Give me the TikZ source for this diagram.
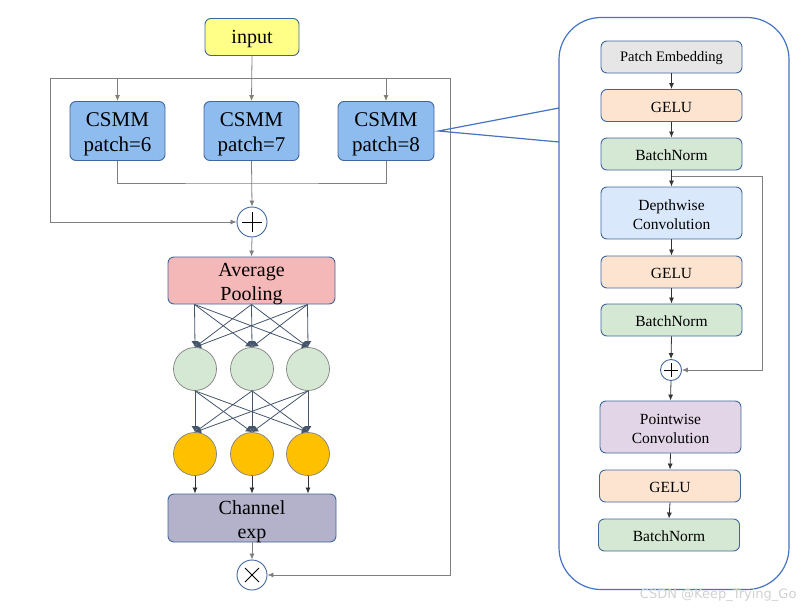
\documentclass[tikz,border=0pt]{standalone}
\usepackage{fontspec}
\setmainfont{Liberation Serif}
\setsansfont{DejaVu Sans}
\usetikzlibrary{arrows.meta,calc}
\definecolor{boxb}{HTML}{41669C}
\definecolor{panelb}{HTML}{4472C4}
\definecolor{lineg}{HTML}{7F7F7F}
\definecolor{nnc}{HTML}{44546A}
\definecolor{inyel}{HTML}{FFFF88}
\definecolor{csmm}{HTML}{8FBCEE}
\definecolor{poolc}{HTML}{F4B8B8}
\definecolor{greenc}{HTML}{D5E8D4}
\definecolor{goldc}{HTML}{FFC000}
\definecolor{chanc}{HTML}{B4B2CA}
\definecolor{grayc}{HTML}{E7E6E6}
\definecolor{peach}{HTML}{FCE4D0}
\definecolor{bnc}{HTML}{D5E8D4}
\definecolor{dwc}{HTML}{DAE8FC}
\definecolor{pwc}{HTML}{E1D5E7}
\tikzset{
  box/.style={draw=boxb, line width=0.9pt, rounded corners=6pt, align=center, inner sep=0pt},
  lbox/.style={box},
  ltext/.style={font=\fontsize{21}{25}\selectfont, align=center, yshift=-3.5pt, inner sep=0pt},
  ltextb/.style={font=\fontsize{20}{24}\selectfont, align=center, yshift=-3.5pt, inner sep=0pt},
  rbox/.style={box, minimum width=141pt, minimum height=32pt, font=\fontsize{15.5}{19}\selectfont, execute at begin node={\rule{0pt}{0.88em}}},
  rbox2/.style={box, minimum width=141pt, minimum height=52pt},
  rtext/.style={font=\fontsize{15.5}{19}\selectfont, align=center, yshift=-1.8pt, inner sep=0pt},
  conn/.style={draw=lineg, line width=0.8pt},
  arr/.style={conn, -{Latex[length=6pt,width=5pt]}},
  nn/.style={draw=nnc, line width=0.8pt, -{Latex[length=6pt,width=7pt]}},
  neuron/.style={circle, draw=lineg, line width=0.7pt, minimum size=43pt, inner sep=0pt},
  opc/.style={circle, draw=boxb, line width=0.9pt, fill=white, inner sep=0pt},
}
\begin{document}
\begin{tikzpicture}[x=1pt,y=-1pt]
\useasboundingbox (0,0) rectangle (808,610);
% left part
\node[lbox, fill=inyel, minimum width=94pt, minimum height=37pt, font=\fontsize{20}{24}\selectfont, execute at begin node={\rule{0pt}{0.9em}}] (inp) at (252,37) {input};
\node[lbox, fill=csmm, minimum width=95pt, minimum height=59pt, label={[ltext]center:CSMM\\patch=6}] (c6) at (117.5,131) {};
\node[lbox, fill=csmm, minimum width=95pt, minimum height=59pt, label={[ltext]center:CSMM\\patch=7}] (c7) at (251.5,131) {};
\node[lbox, fill=csmm, minimum width=96pt, minimum height=59pt, label={[ltext]center:CSMM\\patch=8}] (c8) at (386,131) {};
\node[opc, minimum size=30pt, path picture={
  \draw[black, line width=0.9pt] ($(path picture bounding box.center)+(-10,0)$) -- ($(path picture bounding box.center)+(10,0)$);
  \draw[black, line width=0.9pt] ($(path picture bounding box.center)+(0,-10)$) -- ($(path picture bounding box.center)+(0,10)$);}] (plus1) at (252,222) {};
\node[lbox, fill=poolc, minimum width=167pt, minimum height=47pt, label={[ltextb]center:Average\\Pooling}] (pool) at (251.5,280.5) {};
\node[neuron, fill=greenc] (g1) at (195,369) {};
\node[neuron, fill=greenc] (g2) at (252,369) {};
\node[neuron, fill=greenc] (g3) at (308,369) {};
\node[neuron, fill=goldc] (y1) at (195,454) {};
\node[neuron, fill=goldc] (y2) at (252,454) {};
\node[neuron, fill=goldc] (y3) at (308,454) {};
\node[lbox, fill=chanc, minimum width=168pt, minimum height=48pt, label={[ltextb]center:Channel\\exp}] (chan) at (252,518) {};
\node[opc, minimum size=30pt, path picture={
  \draw[black, line width=0.9pt] ($(path picture bounding box.center)+(-7,-7)$) -- ($(path picture bounding box.center)+(7,7)$);
  \draw[black, line width=0.9pt] ($(path picture bounding box.center)+(-7,7)$) -- ($(path picture bounding box.center)+(7,-7)$);}] (times) at (252,575) {};
\coordinate (tl) at (50,78);
\coordinate (tr) at (450,78);
\coordinate (jn) at (252,183);
\draw[arr] (inp.south) -- (c7.north);
\draw[conn] (tl) -- (tr);
\draw[arr] (c6.north |- tl) -- (c6.north);
\draw[arr] (c8.north |- tl) -- (c8.north);
\draw[conn] (c6.south) |- (jn) -| (c8.south);
\draw[arr] (c7.south) -- (plus1.north);
\draw[arr] (tl) |- (plus1.west);
\draw[arr] (plus1.south) -- (pool.north);
\coordinate (p1) at ([xshift=-57pt]pool.south);
\coordinate (p2) at (pool.south);
\coordinate (p3) at ([xshift=56pt]pool.south);
\foreach \a in {p1,p2,p3}{
  \foreach \b in {g1,g2,g3}{
    \draw[nn] (\a) -- (\b.north);
  }
}
\foreach \a in {g1,g2,g3}{
  \foreach \b in {y1,y2,y3}{
    \draw[nn] (\a.south) -- (\b.north);
  }
}
\foreach \a in {y1,y2,y3}{
  \draw[arr, draw=black!80] (\a.south) -- (\a.south |- chan.north);
}
\draw[arr] (chan.south) -- (times.north);
\draw[arr] (tr) |- (times.east);
% right panel
\node[draw=panelb, line width=1.2pt, rounded corners=42pt, minimum width=230pt, minimum height=572pt, inner sep=0pt] (panel) at (674,303.5) {};
\coordinate (pa) at (559,108);
\coordinate (pb) at (559,142);
\draw[draw=panelb, line width=1.2pt] (pa) -- ([xshift=4pt]c8.east) -- (pb);
\node[rbox, fill=grayc, font=\fontsize{14.5}{17}\selectfont] (pe) at (671.5,57) {Patch Embedding};
\node[rbox, fill=peach] (ge1) at (671.5,105.5) {GELU};
\node[rbox, fill=bnc] (bn1) at (671.5,154) {BatchNorm};
\node[rbox2, fill=dwc, label={[rtext]center:Depthwise\\Convolution}] (dw) at (671.5,213) {};
\node[rbox, fill=peach] (ge2) at (671.5,272) {GELU};
\node[rbox, fill=bnc] (bn2) at (671.5,320) {BatchNorm};
\node[opc, minimum size=21pt, path picture={
  \draw[black, line width=0.8pt] ($(path picture bounding box.center)+(-7,0)$) -- ($(path picture bounding box.center)+(7,0)$);
  \draw[black, line width=0.8pt] ($(path picture bounding box.center)+(0,-7)$) -- ($(path picture bounding box.center)+(0,7)$);}] (plus2) at (671,370) {};
\node[rbox2, fill=pwc, label={[rtext]center:Pointwise\\Convolution}] (pw) at (670.5,427) {};
\node[rbox, fill=peach] (ge3) at (670,486) {GELU};
\node[rbox, fill=bnc] (bn3) at (669,535) {BatchNorm};
\draw[arr, draw=black!80] (pe) -- (ge1);
\draw[arr, draw=black!80] (ge1) -- (bn1);
\draw[arr, draw=black!80] (bn1) -- (dw);
\draw[arr, draw=black!80] (dw) -- (ge2);
\draw[arr, draw=black!80] (ge2) -- (bn2);
\draw[arr, draw=black!80] (bn2.south) -- (plus2.north);
\draw[arr, draw=black!80] (plus2.south) -- (pw.north);
\draw[arr, draw=black!80] (pw.south) -- (ge3.north);
\draw[arr, draw=black!80] (ge3.south) -- (bn3.north);
\coordinate (fb) at (671.5,176);
\coordinate (fbr) at (762,176);
\draw[arr] (fb) -- (fbr) |- (plus2.east);
\node[font=\sffamily\fontsize{13}{15}\selectfont, text=black!18, anchor=east] (wm) at (800,595) {CSDN @Keep\_Trying\_Go};
\end{tikzpicture}
\end{document}
